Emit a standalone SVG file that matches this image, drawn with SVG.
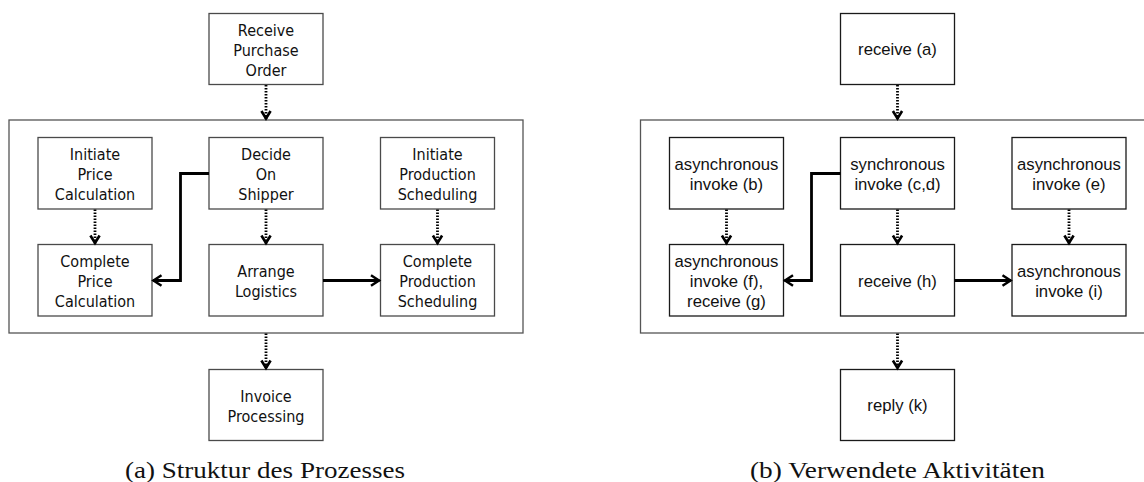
<svg xmlns="http://www.w3.org/2000/svg" width="1144" height="482" viewBox="0 0 1144 482">
  <style>
    .box { fill: #ffffff; stroke: #4a4a4a; stroke-width: 1.3; }
    .boxb { fill: #ffffff; stroke: #1a1a1a; stroke-width: 1.3; }
    .frame { fill: none; stroke: #555555; stroke-width: 1.3; }
    .lt { font-family: "DejaVu Sans Condensed", "DejaVu Sans", sans-serif; font-stretch: condensed; font-size: 16px; fill: #111111; text-anchor: middle; }
    .rt { font-family: "Liberation Sans", Arial, sans-serif; font-size: 16.7px; fill: #111111; text-anchor: middle; }
    .cap { font-family: "Liberation Serif", "Times New Roman", serif; font-size: 23px; fill: #111111; }
    .flow { fill: none; stroke: #000000; stroke-width: 2.8; stroke-dasharray: 1.5 1.5; }
    .link { fill: none; stroke: #000000; stroke-width: 2.8; }
  </style>
  <defs>
    <marker id="dotHead" markerUnits="userSpaceOnUse" markerWidth="16" markerHeight="16" viewBox="-10 -8 12 16" refX="0" refY="0" orient="auto">
      <path d="M-8,-4.6 L-0.5,0 L-8,4.6" fill="none" stroke="#000" stroke-width="2.6" stroke-linejoin="miter"/>
    </marker>
    <marker id="solidHead" markerUnits="userSpaceOnUse" markerWidth="16" markerHeight="16" viewBox="-10 -8 12 16" refX="0" refY="0" orient="auto">
      <path d="M-8.5,-5.2 L-0.5,0 L-8.5,5.2" fill="none" stroke="#000" stroke-width="2.5" stroke-linejoin="miter"/>
    </marker>
  </defs>

  <!-- ===== Left panel: process structure ===== -->
  <rect id="scopeA" class="frame" x="9" y="120" width="514" height="213"/>

  <g id="receivePO">
    <rect class="box" x="209" y="13.5" width="114" height="71"/>
    <text class="lt" x="266" y="35.5">Receive</text>
    <text class="lt" x="266" y="55.5">Purchase</text>
    <text class="lt" x="266" y="75.5">Order</text>
  </g>
  <g id="initPrice">
    <rect class="box" x="38" y="137.5" width="114" height="71.5"/>
    <text class="lt" x="95" y="160">Initiate</text>
    <text class="lt" x="95" y="180">Price</text>
    <text class="lt" x="95" y="200">Calculation</text>
  </g>
  <g id="decideShipper">
    <rect class="box" x="209" y="137.5" width="114" height="71.5"/>
    <text class="lt" x="266" y="160">Decide</text>
    <text class="lt" x="266" y="180">On</text>
    <text class="lt" x="266" y="200">Shipper</text>
  </g>
  <g id="initProduction">
    <rect class="box" x="380.5" y="137.5" width="114" height="71.5"/>
    <text class="lt" x="437.5" y="160">Initiate</text>
    <text class="lt" x="437.5" y="180">Production</text>
    <text class="lt" x="437.5" y="200">Scheduling</text>
  </g>
  <g id="completePrice">
    <rect class="box" x="38" y="244.5" width="114" height="71.5"/>
    <text class="lt" x="95" y="267">Complete</text>
    <text class="lt" x="95" y="287">Price</text>
    <text class="lt" x="95" y="307">Calculation</text>
  </g>
  <g id="arrangeLogistics">
    <rect class="box" x="209" y="244.5" width="114" height="71.5"/>
    <text class="lt" x="266" y="277">Arrange</text>
    <text class="lt" x="266" y="297">Logistics</text>
  </g>
  <g id="completeProduction">
    <rect class="box" x="380.5" y="244.5" width="114" height="71.5"/>
    <text class="lt" x="437.5" y="267">Complete</text>
    <text class="lt" x="437.5" y="287">Production</text>
    <text class="lt" x="437.5" y="307">Scheduling</text>
  </g>
  <g id="invoiceProcessing">
    <rect class="box" x="209" y="369.5" width="114" height="71"/>
    <text class="lt" x="266" y="402">Invoice</text>
    <text class="lt" x="266" y="422">Processing</text>
  </g>

  <!-- ===== Right panel: activities used ===== -->
  <rect id="scopeB" class="frame" x="640.5" y="120" width="520" height="213"/>

  <g id="receiveA">
    <rect class="boxb" x="840.5" y="13.5" width="114" height="71"/>
    <text class="rt" x="897.5" y="55">receive (a)</text>
  </g>
  <g id="asyncB">
    <rect class="boxb" x="669.5" y="137.5" width="114" height="71.5"/>
    <text class="rt" x="726.5" y="170">asynchronous</text>
    <text class="rt" x="726.5" y="190">invoke (b)</text>
  </g>
  <g id="syncCD">
    <rect class="boxb" x="840.5" y="137.5" width="114" height="71.5"/>
    <text class="rt" x="897.5" y="170">synchronous</text>
    <text class="rt" x="897.5" y="190">invoke (c,d)</text>
  </g>
  <g id="asyncE">
    <rect class="boxb" x="1012" y="137.5" width="114" height="71.5"/>
    <text class="rt" x="1069" y="170">asynchronous</text>
    <text class="rt" x="1069" y="190">invoke (e)</text>
  </g>
  <g id="asyncFreceiveG">
    <rect class="boxb" x="669.5" y="244.5" width="114" height="71.5"/>
    <text class="rt" x="726.5" y="267">asynchronous</text>
    <text class="rt" x="726.5" y="287">invoke (f),</text>
    <text class="rt" x="726.5" y="307">receive (g)</text>
  </g>
  <g id="receiveH">
    <rect class="boxb" x="840.5" y="244.5" width="114" height="71.5"/>
    <text class="rt" x="897.5" y="287">receive (h)</text>
  </g>
  <g id="asyncI">
    <rect class="boxb" x="1012" y="244.5" width="114" height="71.5"/>
    <text class="rt" x="1069" y="277">asynchronous</text>
    <text class="rt" x="1069" y="297">invoke (i)</text>
  </g>
  <g id="replyK">
    <rect class="boxb" x="840.5" y="369.5" width="114" height="71"/>
    <text class="rt" x="897.5" y="411">reply (k)</text>
  </g>

  <!-- ===== Connectors ===== -->
  <g id="connectors">
    <!-- control flow (dotted) -->
    <path class="flow" d="M266,85 V119" marker-end="url(#dotHead)"/>
    <path class="flow" d="M95,209.5 V243.5" marker-end="url(#dotHead)"/>
    <path class="flow" d="M266,209.5 V243.5" marker-end="url(#dotHead)"/>
    <path class="flow" d="M437.5,209.5 V243.5" marker-end="url(#dotHead)"/>
    <path class="flow" d="M266,333.5 V368.5" marker-end="url(#dotHead)"/>

    <path class="flow" d="M897.5,85 V119" marker-end="url(#dotHead)"/>
    <path class="flow" d="M726.5,209.5 V243.5" marker-end="url(#dotHead)"/>
    <path class="flow" d="M897.5,209.5 V243.5" marker-end="url(#dotHead)"/>
    <path class="flow" d="M1069,209.5 V243.5" marker-end="url(#dotHead)"/>
    <path class="flow" d="M897.5,333.5 V368.5" marker-end="url(#dotHead)"/>

    <!-- links (solid) -->
    <path class="link" d="M209,173.5 H180.5 V280.5 H153" marker-end="url(#solidHead)"/>
    <path class="link" d="M323,280.5 H379.5" marker-end="url(#solidHead)"/>
    <path class="link" d="M840.5,173.5 H811.5 V280.5 H784.5" marker-end="url(#solidHead)"/>
    <path class="link" d="M954.5,280.5 H1011" marker-end="url(#solidHead)"/>
  </g>

  <!-- ===== Captions ===== -->
  <text id="captionA" class="cap" x="125" y="478" textLength="280" lengthAdjust="spacingAndGlyphs">(a) Struktur des Prozesses</text>
  <text id="captionB" class="cap" x="750" y="478" textLength="295" lengthAdjust="spacingAndGlyphs">(b) Verwendete Aktivitäten</text>
</svg>
